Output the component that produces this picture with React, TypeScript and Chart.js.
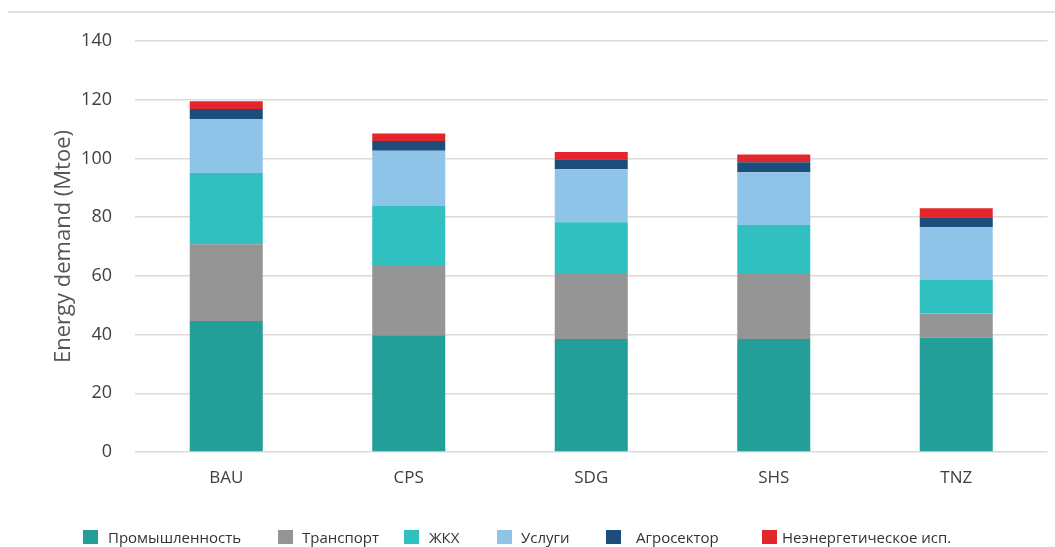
import React, { useEffect, useRef } from "react";
import { Chart, registerables } from "chart.js";

Chart.register(...registerables);

// Scenarios on the x axis
const scenarios = ["BAU", "CPS", "SDG", "SHS", "TNZ"];

// Energy demand by sector, Mtoe
const industry = [44.6, 39.8, 38.5, 38.5, 39.0];
const transport = [26.2, 23.9, 22.1, 22.1, 8.2];
const housing = [24.2, 20.3, 17.7, 16.7, 11.4];
const services = [18.4, 18.6, 18.0, 18.0, 18.0];
const agro = [3.4, 3.3, 3.4, 3.4, 3.4];
const nonEnergy = [2.7, 2.6, 2.5, 2.6, 3.0];

const seriesNames = [
  "Промышленность",
  "Транспорт",
  "ЖКХ",
  "Услуги",
  "Агросектор",
  "Неэнергетическое исп.",
];
const seriesValues = [industry, transport, housing, services, agro, nonEnergy];
const seriesColors = ["#239e98", "#959595", "#31c0c0", "#8fc4e9", "#1d4e7b", "#e2262b"];

const yTicks = [0, 20, 40, 60, 80, 100, 120, 140];

// Legend item x offsets (swatch left, text left)
const legendSwatchX = [83, 278, 404, 497, 606, 762];
const legendTextX = [108, 302, 429, 521, 636, 782];

export default function App() {
  const canvasRef = useRef<HTMLCanvasElement | null>(null);

  useEffect(() => {
    if (!canvasRef.current) return;
    const chart = new Chart(canvasRef.current, {
      type: "bar",
      data: {
        labels: scenarios,
        datasets: seriesNames.map((name, i) => ({
          label: name,
          data: seriesValues[i],
          backgroundColor: seriesColors[i],
          borderWidth: 0,
          barPercentage: 0.4,
          categoryPercentage: 1,
        })),
      },
      options: {
        animation: false,
        responsive: false,
        layout: { padding: { top: 41, right: 7.5, left: 0, bottom: 0 } },
        plugins: {
          legend: { display: false },
          tooltip: { enabled: false },
        },
        scales: {
          x: {
            stacked: true,
            grid: { display: false, drawTicks: false },
            border: { display: false },
            ticks: {
              color: "#404040",
              font: { family: "Open Sans", size: 17 },
              padding: 16,
            },
            afterFit: (scale: any) => {
              scale.height = 95;
            },
          },
          y: {
            stacked: true,
            min: 0,
            max: 140,
            afterBuildTicks: (scale: any) => {
              scale.ticks = yTicks.map((v) => ({ value: v }));
            },
            grid: { color: "#dedad6", lineWidth: 1.5, drawTicks: false },
            border: { display: false },
            ticks: {
              color: "#404040",
              font: { family: "Open Sans", size: 18 },
              padding: 23,
            },
            title: {
              display: true,
              text: "Energy demand (Mtoe)",
              color: "#555555",
              font: { family: "Open Sans", size: 22 },
              padding: { top: 51, bottom: 0 },
            },
            afterFit: (scale: any) => {
              scale.width = 135;
            },
          },
        },
      },
    });
    return () => chart.destroy();
  }, []);

  return (
    <div
      style={{
        position: "absolute",
        left: 0,
        top: 0,
        width: 1055,
        height: 547,
        background: "#ffffff",
        overflow: "hidden",
        fontFamily: "Open Sans, sans-serif",
      }}
    >
      <div
        style={{
          position: "absolute",
          left: 8,
          right: 0,
          top: 11,
          height: 2,
          background: "#e2e0dc",
        }}
      />
      <canvas ref={canvasRef} width={1055} height={547} style={{ position: "absolute", left: 0, top: 0 }} />
      {seriesNames.map((name, i) => (
        <React.Fragment key={name}>
          <div
            style={{
              position: "absolute",
              left: legendSwatchX[i],
              top: 530,
              width: 15,
              height: 14,
              background: seriesColors[i],
            }}
          />
          <div
            style={{
              position: "absolute",
              left: legendTextX[i],
              top: 527,
              fontSize: 15,
              lineHeight: "20px",
              color: "#333333",
              whiteSpace: "nowrap",
            }}
          >
            {name}
          </div>
        </React.Fragment>
      ))}
    </div>
  );
}
